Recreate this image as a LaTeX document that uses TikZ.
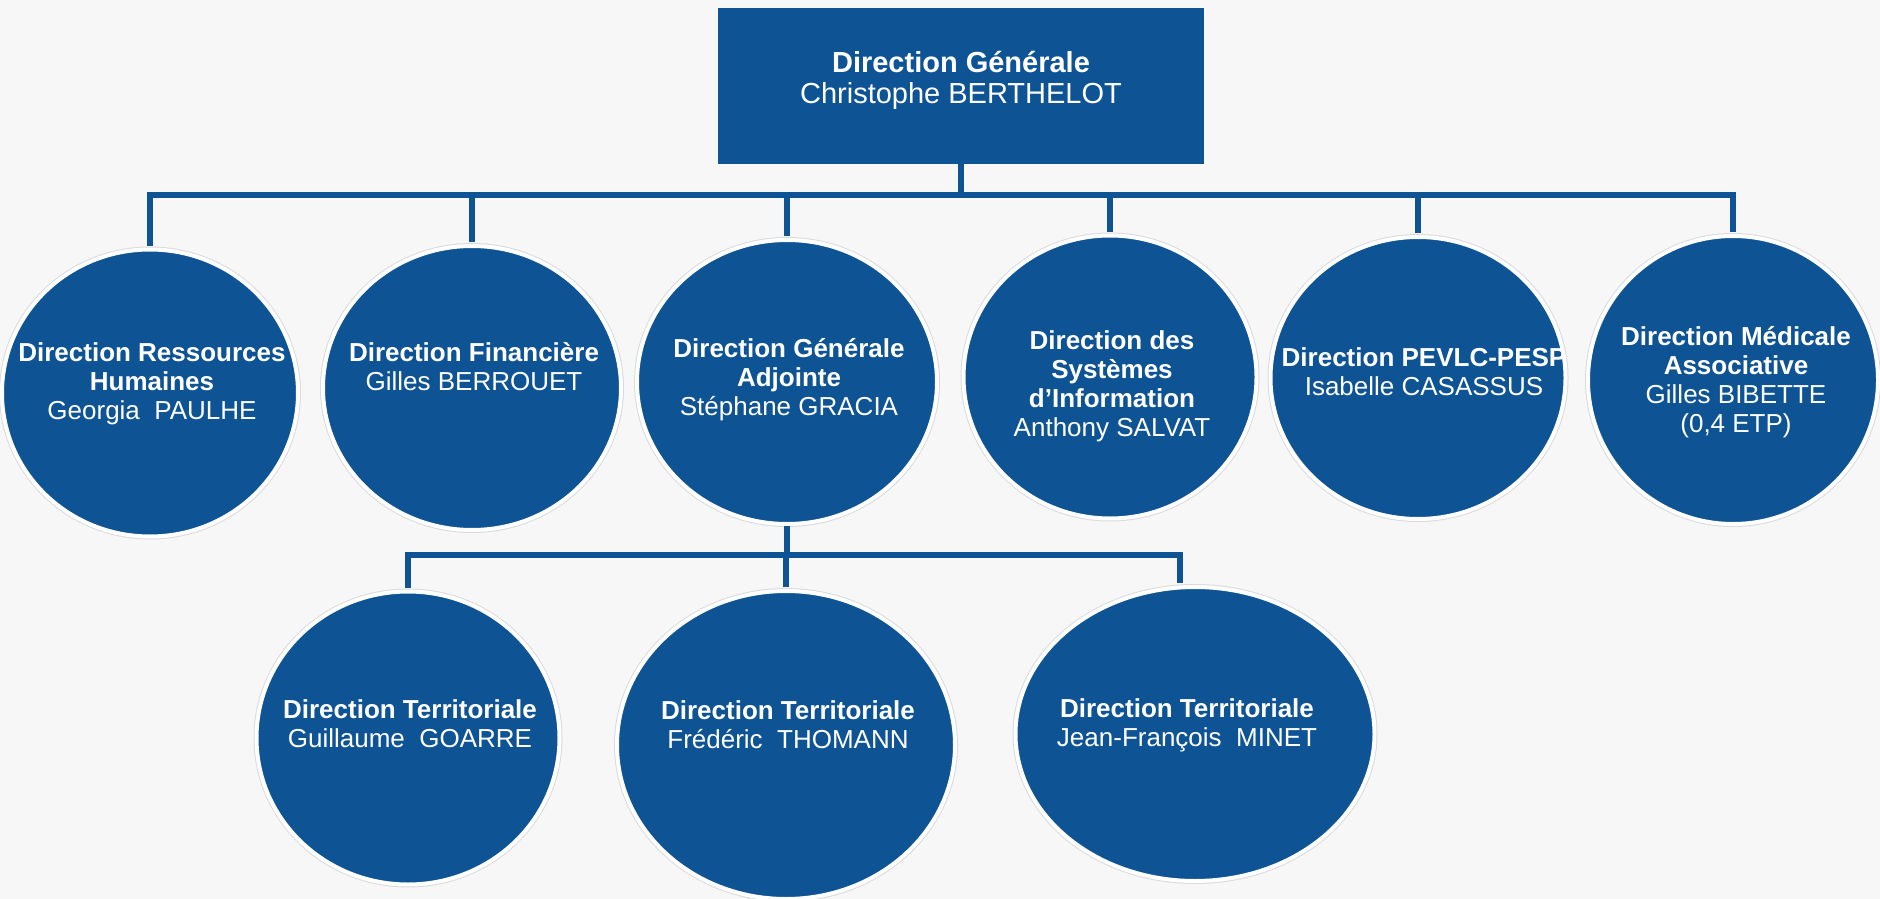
\documentclass[tikz,border=0pt]{standalone}
\usepackage{fontspec}
\setmainfont{Liberation Sans}
\usetikzlibrary{shapes.geometric, positioning}
\definecolor{dirblue}{RGB}{14,83,148}
\definecolor{bggray}{RGB}{247,247,247}
\tikzstyle{dirbox} = [rectangle, minimum width=243pt, minimum height=78pt, fill=dirblue, inner sep=0pt]
\tikzstyle{oval} = [ellipse, fill=dirblue, draw=white, line width=2pt, inner sep=0pt, preaction={draw=black!14, line width=3pt}]
\tikzstyle{txt} = [text=white, align=center, inner sep=0pt, font=\fontsize{13}{14.5}\selectfont]
\tikzstyle{link} = [draw=dirblue, line width=3pt, shorten >=1pt]

\begin{document}
\begin{tikzpicture}[x=0.5pt, y=-0.5pt]
\useasboundingbox (0,0) rectangle (1880,899);
\fill[bggray] (0,0) rectangle (1880,899);

% direction generale
\node (dg) [dirbox] at (961,86) {};
\node (dg-t) [txt, font=\fontsize{14.5}{15.5}\selectfont] at (961,80) {\textbf{Direction Générale}\\Christophe BERTHELOT};

% first row
\node (drh) [oval, minimum width=148pt, minimum height=143.5pt] at (150,393) {};
\node (dfin) [oval, minimum width=149pt, minimum height=142pt] at (472,388) {};
\node (dga) [oval, minimum width=150pt, minimum height=142pt] at (787,382) {};
\node (dsi) [oval, minimum width=146.5pt, minimum height=141.5pt] at (1110,377) {};
\node (dpevlc) [oval, minimum width=147.5pt, minimum height=141pt] at (1418,378) {};
\node (dmed) [oval, minimum width=145pt, minimum height=144pt] at (1733,380) {};

\node (drh-t) [txt] at (152,384) {\textbf{Direction Ressources}\\\textbf{Humaines}\\Georgia\ \ PAULHE};
\node (dfin-t) [txt] at (474,367) {\textbf{Direction Financière}\\Gilles BERROUET};
\node (dga-t) [txt] at (789,380) {\textbf{Direction Générale}\\\textbf{Adjointe}\\Stéphane GRACIA};
\node (dsi-t) [txt] at (1112,386) {\textbf{Direction des}\\\textbf{Systèmes}\\\textbf{d’Information}\\Anthony SALVAT};
\node (dpevlc-t) [txt] at (1424,372) {\textbf{Direction PEVLC-PESP}\\Isabelle CASASSUS};
\node (dmed-t) [txt] at (1736,382) {\textbf{Direction Médicale}\\\textbf{Associative}\\Gilles BIBETTE\\(0,4 ETP)};

% second row
\node (dt1) [oval, minimum width=151.5pt, minimum height=146.5pt] at (408,738) {};
\node (dt2) [oval, minimum width=169pt, minimum height=154pt] at (786,745) {};
\node (dt3) [oval, minimum width=179.5pt, minimum height=147pt] at (1195,734) {};

\node (dt1-t) [txt] at (410,724) {\textbf{Direction Territoriale}\\Guillaume\ \ GOARRE};
\node (dt2-t) [txt] at (788,725) {\textbf{Direction Territoriale}\\Frédéric\ \ THOMANN};
\node (dt3-t) [txt] at (1187,725) {\textbf{Direction Territoriale}\\Jean-François\ \ MINET};

% connectors
\foreach \n in {drh,dfin,dga,dsi,dpevlc,dmed}
  \draw [link] (dg.south) -- ++(0,31) -| (\n.north);
\draw [link] (dga.south) -- ++(0,29) -| (dt1.north);
\draw [link] (dga.south) -- ++(0,29) -| (dt2.north);
\draw [link] (dga.south) -- ++(0,29) -| ([xshift=-7.5pt]dt3.north);

\end{tikzpicture}
\end{document}
